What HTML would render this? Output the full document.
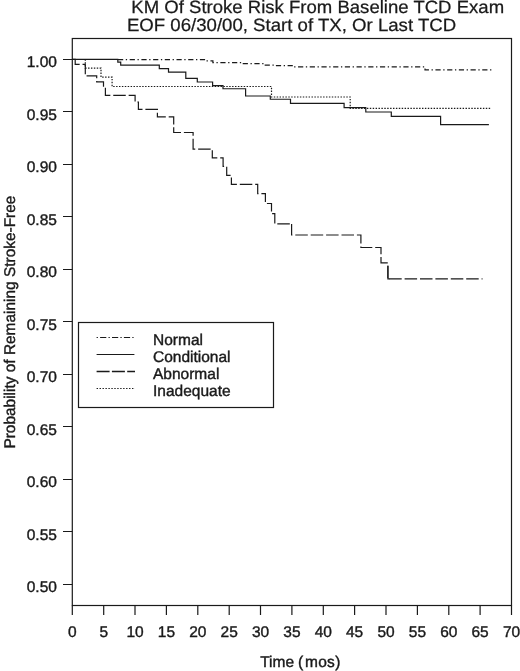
<!DOCTYPE html>
<html lang="en">
<head>
<meta charset="utf-8">
<title>KM Of Stroke Risk From Baseline TCD Exam</title>
<style>
html,body{margin:0;padding:0;background:#fff;}
body{width:520px;height:671px;position:relative;overflow:hidden;font-family:"Liberation Sans", Arial, Helvetica, sans-serif;}
</style>
</head>
<body>
<svg width="520" height="671" viewBox="0 0 520 671" style="display:block;position:absolute;left:0;top:0;will-change:transform">
<rect x="0" y="0" width="520" height="671" fill="#ffffff"/>
<g font-family='"Liberation Sans", Arial, Helvetica, sans-serif' fill="#1a1a1a" stroke="#1a1a1a" stroke-width="0.4" text-rendering="geometricPrecision">
<text x="131.3" y="13.2" font-size="17.8" stroke-width="0.25" textLength="372.8" lengthAdjust="spacingAndGlyphs">KM Of Stroke Risk From Baseline TCD Exam</text>
<text x="126.9" y="31.4" font-size="17.8" stroke-width="0.25" textLength="329.3" lengthAdjust="spacingAndGlyphs">EOF 06/30/00, Start of TX, Or Last TCD</text>
<text x="56.9" y="67.3" font-size="15.5" text-anchor="end">1.00</text>
<text x="56.9" y="119.8" font-size="15.5" text-anchor="end">0.95</text>
<text x="56.9" y="172.3" font-size="15.5" text-anchor="end">0.90</text>
<text x="56.9" y="224.8" font-size="15.5" text-anchor="end">0.85</text>
<text x="56.9" y="277.3" font-size="15.5" text-anchor="end">0.80</text>
<text x="56.9" y="329.8" font-size="15.5" text-anchor="end">0.75</text>
<text x="56.9" y="382.2" font-size="15.5" text-anchor="end">0.70</text>
<text x="56.9" y="434.7" font-size="15.5" text-anchor="end">0.65</text>
<text x="56.9" y="487.2" font-size="15.5" text-anchor="end">0.60</text>
<text x="56.9" y="539.7" font-size="15.5" text-anchor="end">0.55</text>
<text x="56.9" y="592.2" font-size="15.5" text-anchor="end">0.50</text>
<text x="72.3" y="636.8" font-size="15.5" text-anchor="middle">0</text>
<text x="103.7" y="636.8" font-size="15.5" text-anchor="middle">5</text>
<text x="135.0" y="636.8" font-size="15.5" text-anchor="middle">10</text>
<text x="166.4" y="636.8" font-size="15.5" text-anchor="middle">15</text>
<text x="197.8" y="636.8" font-size="15.5" text-anchor="middle">20</text>
<text x="229.2" y="636.8" font-size="15.5" text-anchor="middle">25</text>
<text x="260.5" y="636.8" font-size="15.5" text-anchor="middle">30</text>
<text x="291.9" y="636.8" font-size="15.5" text-anchor="middle">35</text>
<text x="323.3" y="636.8" font-size="15.5" text-anchor="middle">40</text>
<text x="354.6" y="636.8" font-size="15.5" text-anchor="middle">45</text>
<text x="386.0" y="636.8" font-size="15.5" text-anchor="middle">50</text>
<text x="417.4" y="636.8" font-size="15.5" text-anchor="middle">55</text>
<text x="448.8" y="636.8" font-size="15.5" text-anchor="middle">60</text>
<text x="480.1" y="636.8" font-size="15.5" text-anchor="middle">65</text>
<text x="511.5" y="636.8" font-size="15.5" text-anchor="middle">70</text>
<text y="667.3" font-size="15.5"><tspan x="260.2">Time </tspan><tspan x="298.1">(</tspan><tspan x="304.9" textLength="35.4" lengthAdjust="spacing">mos)</tspan></text>
<text transform="translate(14.8 448.6) rotate(-90)" font-size="15.5" textLength="253" lengthAdjust="spacingAndGlyphs">Probability of Remaining Stroke-Free</text>
<text x="153.0" y="344.9" font-size="15.5">Normal</text>
<text x="153.0" y="362.1" font-size="15.5">Conditional</text>
<text x="153.0" y="379.0" font-size="15.5">Abnormal</text>
<text x="153.0" y="396.1" font-size="15.5">Inadequate</text>
</g>
<g fill="none" stroke="#1a1a1a" stroke-width="1.2" shape-rendering="auto">
<rect x="72.3" y="38.5" width="439.2" height="567.0"/>
<path d="M63,59.5H72.3M63,111.5H72.3M63,164.5H72.3M63,216.5H72.3M63,269.5H72.3M63,321.5H72.3M63,374.5H72.3M63,426.5H72.3M63,479.5H72.3M63,531.5H72.3M63,584.5H72.3M72.3,605.5V614.9M103.7,605.5V614.9M135.0,605.5V614.9M166.4,605.5V614.9M197.8,605.5V614.9M229.2,605.5V614.9M260.5,605.5V614.9M291.9,605.5V614.9M323.3,605.5V614.9M354.6,605.5V614.9M386.0,605.5V614.9M417.4,605.5V614.9M448.8,605.5V614.9M480.1,605.5V614.9M511.5,605.5V614.9"/>
<rect x="78.5" y="322.5" width="195" height="85" stroke-width="1.2"/>
</g>
<g fill="none" stroke="#1a1a1a" stroke-width="1.2" stroke-linejoin="miter">
<path d="M72.3,59.3H117.8V62.1H120.7V65.15H159.3V68.65H168.5V72.2H185.8V78.45H197.3V82H212.6V85.7H223V88.75H245.6V96H270.3V99.25H290.5V103.4H344.1V107.65H365.8V112H391.3V116.45H440.6V124.7H488.9"/>
<path d="M118,59.65H205.6V60.8H212.9V62.6H243.3V63.65H264.6V65.1H274V65.55H294V66.8H425V69.8H492.7" stroke-dasharray="5.2 2.6 1.3 2.6"/>
<path d="M72.3,59.3H75.2V64.45H85.3V75.85H96.7V81.9H103.5V87.5H105.4V95.35H135.1V102H138.4V109.4H157.4V116.9H173.7V132.5H193.1V149.05H212.3V157.8H223.1V166.4H226.7V175.3H231.4V184.4H257.7V193.6H265.4V203.5H271.5V213.7H274.8V223.9H291.6" stroke-dasharray="12.5 2.9"/>
<path d="M291.6,223.9V235H360.9V247.5H381V262.85H387.9V278.9" stroke-dasharray="12.5 2.9" stroke-dashoffset="0.6"/>
<path d="M389.2,278.9H482.5" stroke-dasharray="12.5 2.9"/>
<path d="M387.9,266V278.9H389.6"/>
<path d="M85.3,59.3V68.15H101V77.2H112.1V86.5H271.5V97H350.2V108.3H491.3" stroke-dasharray="1.45 1.45"/>
<path d="M96.6,337.5H134.4" stroke-dasharray="1.3 2.2 6.2 2.2" stroke-width="1.2"/>
<path d="M96.6,354.5H134.4" stroke-width="1.1"/>
<path d="M96.6,371.5H135" stroke-dasharray="13 2.3" stroke-width="1.5"/>
<path d="M96.6,388.5H135" stroke-dasharray="1.4 1.55" stroke-width="1.2"/>
</g>
</svg>
</body>
</html>
